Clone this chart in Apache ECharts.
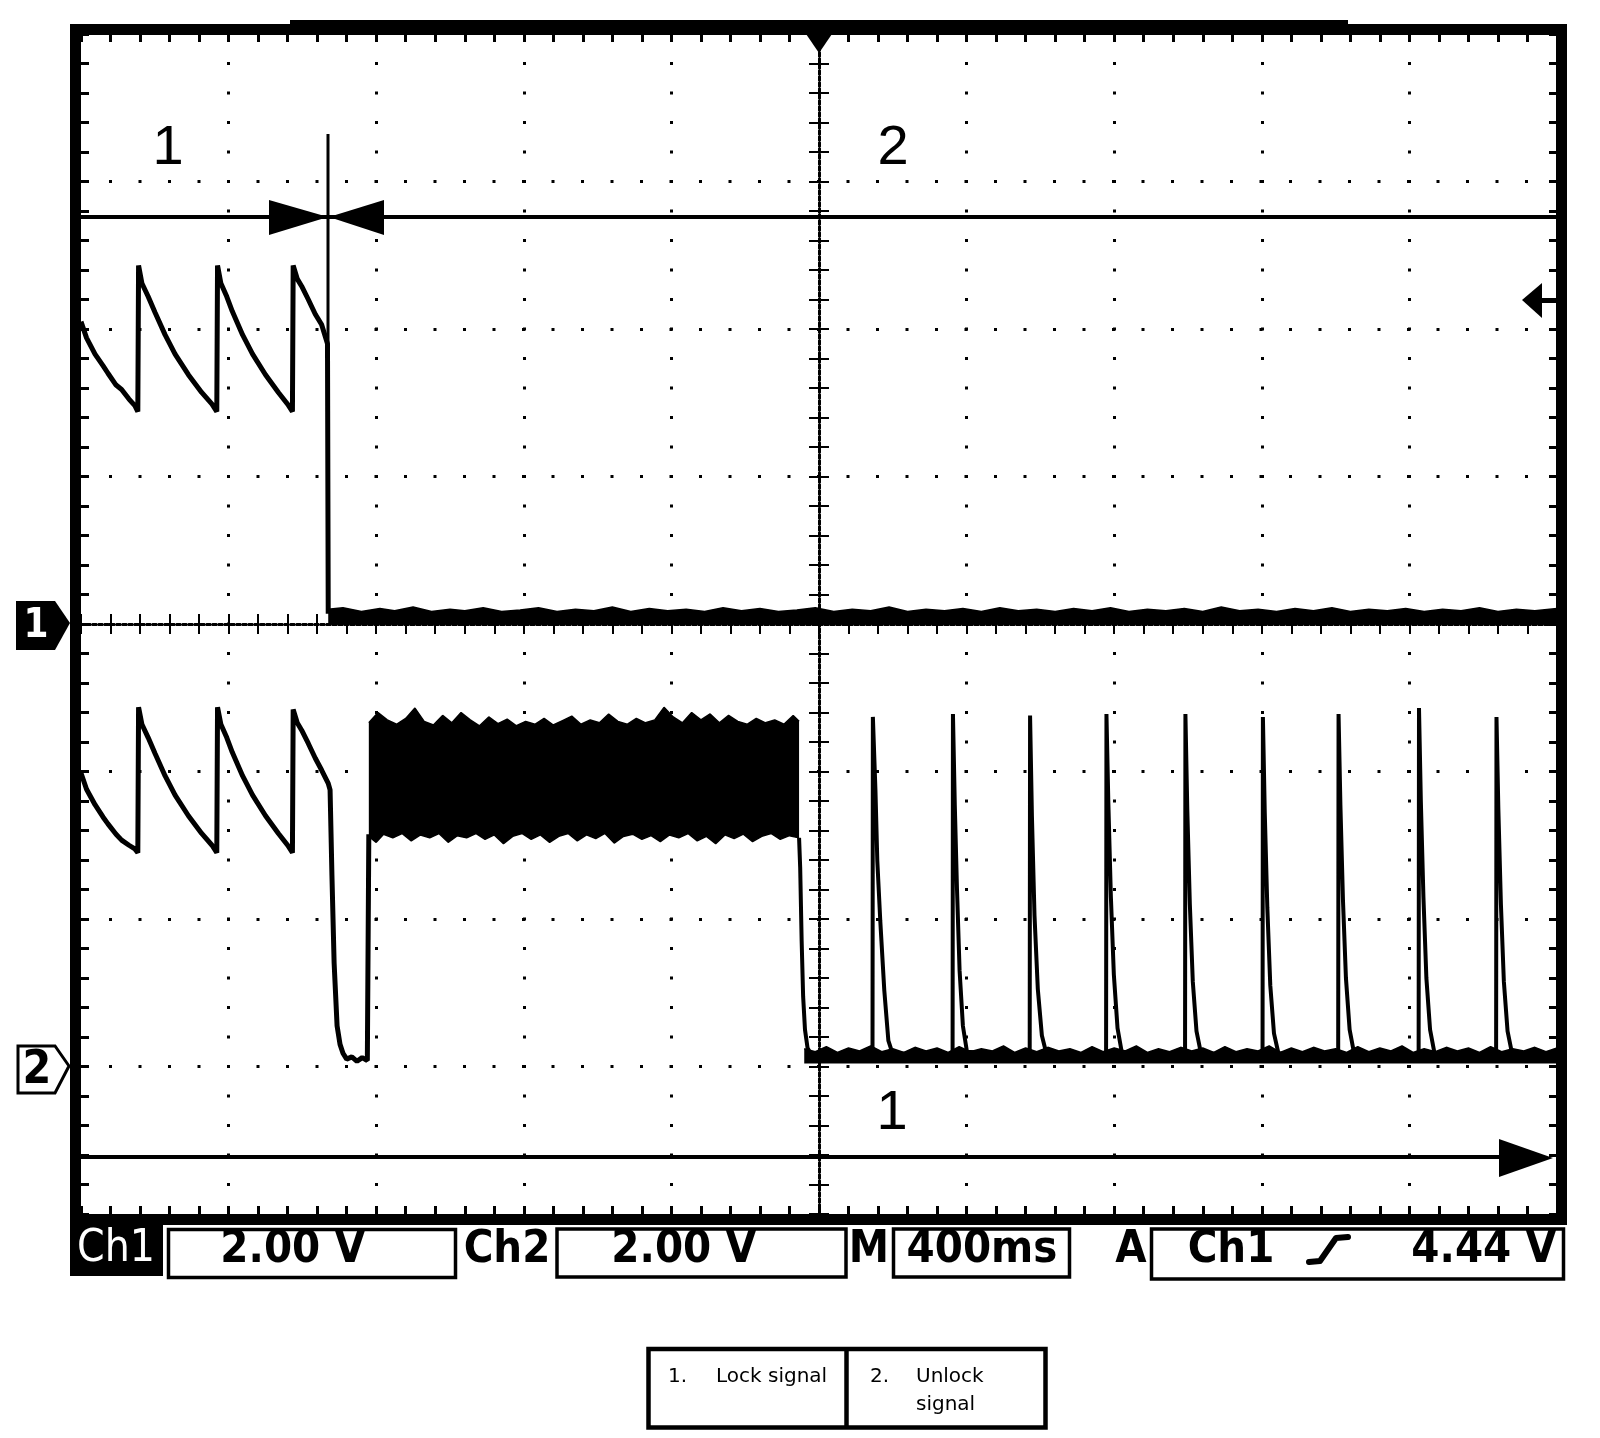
<!DOCTYPE html>
<html>
<head>
<meta charset="utf-8">
<title>Lock / unlock signal</title>
<script src="https://cdn.jsdelivr.net/npm/echarts@6/dist/echarts.min.js"></script>
<style>
  html, body { margin: 0; padding: 0; background: #fff; }
  #scope { width: 1600px; height: 1438px; }
</style>
</head>
<body>
<div id="scope"></div>
<script>
// time in ms (trigger at 0, 400 ms/div), voltage in V (2 V/div)
// Ch1 ground at centre line, Ch2 ground three divisions lower

// Ch1 - lock signal
var ch1Sawtooth = [
  [-2000, 4.10], [-1985, 3.88], [-1962, 3.66], [-1940, 3.50], [-1927, 3.40], [-1905, 3.24], [-1890, 3.18], [-1870, 3.05], [-1854, 2.96], [-1846, 2.88],
  [-1844, 4.86], [-1835, 4.62], [-1818, 4.44], [-1799, 4.22], [-1772, 3.92], [-1745, 3.66], [-1709, 3.38], [-1673, 3.14], [-1645, 2.98], [-1632, 2.88],
  [-1630, 4.86], [-1621, 4.62], [-1605, 4.44], [-1590, 4.24], [-1562, 3.92], [-1535, 3.66], [-1500, 3.38], [-1465, 3.14], [-1440, 2.98], [-1427, 2.88],
  [-1425, 4.86], [-1414, 4.68], [-1402, 4.58], [-1384, 4.40], [-1365, 4.20], [-1348, 4.06], [-1332, 3.80],
  [-1330, 0.14]
];
var ch1Noise = [
  [-1330, 0.20], [-1290, 0.22], [-1240, 0.17], [-1190, 0.21], [-1150, 0.18], [-1100, 0.23], [-1050, 0.17], [-1000, 0.20], [-960, 0.18], [-910, 0.22],
  [-860, 0.17], [-810, 0.19], [-760, 0.22], [-710, 0.17], [-660, 0.20], [-610, 0.18], [-560, 0.23], [-510, 0.17], [-460, 0.21], [-410, 0.18],
  [-360, 0.20], [-310, 0.17], [-260, 0.22], [-210, 0.18], [-160, 0.21], [-110, 0.17], [-60, 0.19], [-10, 0.22], [40, 0.17], [90, 0.20],
  [140, 0.18], [190, 0.23], [240, 0.17], [290, 0.20], [340, 0.18], [390, 0.21], [440, 0.17], [490, 0.22], [540, 0.18], [590, 0.20],
  [640, 0.17], [690, 0.21], [740, 0.18], [790, 0.22], [840, 0.17], [890, 0.20], [940, 0.18], [990, 0.21], [1040, 0.17], [1090, 0.23],
  [1140, 0.18], [1190, 0.20], [1240, 0.17], [1290, 0.21], [1340, 0.18], [1390, 0.22], [1440, 0.17], [1490, 0.20], [1540, 0.18], [1590, 0.21],
  [1640, 0.17], [1690, 0.20], [1740, 0.18], [1790, 0.22], [1840, 0.17], [1890, 0.20], [1940, 0.18], [2000, 0.21]
];

// Ch2 - unlock signal
var ch2Sawtooth = [
  [-2000, 3.98], [-1985, 3.76], [-1962, 3.55], [-1940, 3.38], [-1927, 3.29], [-1905, 3.15], [-1890, 3.07], [-1870, 3.00], [-1854, 2.95], [-1846, 2.90],
  [-1844, 4.87], [-1835, 4.64], [-1818, 4.46], [-1799, 4.24], [-1772, 3.94], [-1745, 3.68], [-1709, 3.40], [-1673, 3.16], [-1645, 3.00], [-1632, 2.90],
  [-1630, 4.87], [-1621, 4.64], [-1605, 4.46], [-1590, 4.26], [-1562, 3.94], [-1535, 3.68], [-1500, 3.40], [-1465, 3.16], [-1440, 3.00], [-1427, 2.90],
  [-1425, 4.84], [-1414, 4.66], [-1402, 4.56], [-1384, 4.38], [-1365, 4.18], [-1348, 4.02], [-1330, 3.84]
];
var ch2Dip = [
  [-1325, 3.75], [-1320, 2.60], [-1314, 1.40], [-1306, 0.55], [-1298, 0.30], [-1290, 0.18], [-1280, 0.10], [-1266, 0.13], [-1252, 0.07],
  [-1238, 0.12], [-1224, 0.08], [-1221, 0.10], [-1220, 3.15]
];
var burstTop = [
  [-1220, 4.66], [-1195, 4.80], [-1170, 4.70], [-1145, 4.64], [-1120, 4.72], [-1095, 4.86], [-1070, 4.68], [-1045, 4.63], [-1020, 4.76], [-995, 4.66],
  [-970, 4.80], [-945, 4.70], [-920, 4.62], [-895, 4.74], [-870, 4.65], [-845, 4.71], [-820, 4.62], [-795, 4.68], [-770, 4.64], [-745, 4.72],
  [-720, 4.63], [-695, 4.69], [-670, 4.75], [-645, 4.64], [-620, 4.70], [-595, 4.66], [-570, 4.78], [-545, 4.68], [-520, 4.64], [-495, 4.72],
  [-470, 4.66], [-445, 4.70], [-420, 4.87], [-395, 4.74], [-370, 4.66], [-345, 4.80], [-320, 4.70], [-295, 4.78], [-270, 4.66], [-245, 4.76],
  [-220, 4.68], [-195, 4.64], [-170, 4.72], [-145, 4.66], [-120, 4.70], [-95, 4.64], [-70, 4.76], [-54, 4.68]
];
var burstBottom = [
  [-1220, 3.12], [-1200, 3.04], [-1180, 3.15], [-1155, 3.10], [-1130, 3.16], [-1105, 3.06], [-1080, 3.14], [-1055, 3.10], [-1030, 3.16], [-1005, 3.04],
  [-980, 3.13], [-955, 3.10], [-930, 3.16], [-905, 3.08], [-880, 3.14], [-855, 3.02], [-830, 3.12], [-805, 3.16], [-780, 3.08], [-755, 3.14],
  [-730, 3.04], [-705, 3.12], [-680, 3.16], [-655, 3.06], [-630, 3.14], [-605, 3.09], [-580, 3.16], [-555, 3.03], [-530, 3.12], [-505, 3.15],
  [-480, 3.08], [-455, 3.13], [-430, 3.05], [-405, 3.14], [-380, 3.10], [-355, 3.16], [-330, 3.06], [-305, 3.12], [-280, 3.02], [-255, 3.14],
  [-230, 3.09], [-205, 3.15], [-180, 3.05], [-155, 3.12], [-130, 3.16], [-105, 3.08], [-80, 3.13], [-54, 3.10]
];
var ch2Pulses = [
  [-54, 3.10], [-51, 2.70], [-47, 1.70], [-43, 0.95], [-38, 0.50], [-31, 0.25], [-20, 0.15],
  [137, 0.15], [145, 0.15], [146, 4.74], [153, 3.74], [158, 2.79], [166, 1.98], [177, 1.03], [188, 0.35], [199, 0.18],
  [354, 0.15], [362, 0.15], [363, 4.78], [368, 3.55], [374, 2.40], [381, 1.30], [390, 0.55], [401, 0.20],
  [563, 0.15], [571, 0.15], [572, 4.76], [577, 3.40], [584, 2.05], [593, 1.05], [604, 0.42], [616, 0.18],
  [770, 0.15], [778, 0.15], [779, 4.78], [784, 3.60], [791, 2.30], [799, 1.25], [809, 0.52], [821, 0.18],
  [984, 0.15], [992, 0.15], [993, 4.78], [998, 3.50], [1005, 2.20], [1013, 1.15], [1023, 0.48], [1035, 0.18],
  [1194, 0.15], [1202, 0.15], [1203, 4.74], [1208, 3.45], [1215, 2.15], [1223, 1.10], [1233, 0.45], [1245, 0.18],
  [1399, 0.15], [1407, 0.15], [1408, 4.78], [1413, 3.55], [1420, 2.25], [1428, 1.20], [1438, 0.50], [1450, 0.18],
  [1617, 0.15], [1625, 0.15], [1626, 4.86], [1631, 3.60], [1638, 2.30], [1646, 1.20], [1656, 0.50], [1668, 0.18],
  [1827, 0.15], [1835, 0.15], [1836, 4.74], [1841, 3.50], [1848, 2.20], [1856, 1.15], [1866, 0.48], [1878, 0.18],
  [2000, 0.15]
];
var ch2Baseline = [
  [-40, 0.24], [-10, 0.20], [20, 0.27], [50, 0.19], [80, 0.25], [110, 0.21], [140, 0.28], [170, 0.20], [200, 0.24], [230, 0.19],
  [260, 0.26], [290, 0.21], [320, 0.25], [350, 0.19], [380, 0.27], [410, 0.20], [440, 0.24], [470, 0.21], [500, 0.28], [530, 0.19],
  [560, 0.25], [590, 0.20], [620, 0.26], [650, 0.21], [680, 0.24], [710, 0.19], [740, 0.27], [770, 0.20], [800, 0.25], [830, 0.21],
  [860, 0.28], [890, 0.19], [920, 0.24], [950, 0.20], [980, 0.26], [1010, 0.21], [1040, 0.25], [1070, 0.19], [1100, 0.27], [1130, 0.20],
  [1160, 0.24], [1190, 0.21], [1220, 0.28], [1250, 0.19], [1280, 0.25], [1310, 0.20], [1340, 0.26], [1370, 0.21], [1400, 0.24], [1430, 0.19],
  [1460, 0.27], [1490, 0.20], [1520, 0.25], [1550, 0.21], [1580, 0.28], [1610, 0.19], [1640, 0.24], [1670, 0.20], [1700, 0.26], [1730, 0.21],
  [1760, 0.25], [1790, 0.19], [1820, 0.27], [1850, 0.20], [1880, 0.24], [1910, 0.21], [1940, 0.26], [1970, 0.20], [2000, 0.25]
];

// readout bar and legend texts
var readout = ['Ch1', '2.00 V', 'Ch2', '2.00 V', 'M', '400ms', 'A', 'Ch1', '4.44 V'];
var legendRows = [['1.', 'Lock signal'], ['2.', 'Unlock', 'signal']];

var chart = echarts.init(document.getElementById('scope'));

var tickStyle = {color: '#000', width: 3};
var dots = {color: '#000', width: 3, type: [3, 26.5], dashOffset: 1.5};

function edgeAxis(min, max, interval, position, grid) {
  return {
    type: 'value', min: min, max: max, interval: interval, position: position,
    axisLabel: {show: false},
    axisLine: {show: false, onZero: false},
    axisTick: {show: true, inside: true, length: 8, lineStyle: tickStyle},
    minorTick: {show: true, splitNumber: 5, length: 8, lineStyle: tickStyle},
    splitLine: grid ? {show: true, showMinLine: false, showMaxLine: false, lineStyle: dots} : {show: false}
  };
}
function centreAxis(min, max, interval, position, inside) {
  return {
    type: 'value', min: min, max: max, interval: interval, position: position,
    axisLabel: {show: false},
    splitLine: {show: false},
    axisLine: {show: true, onZero: true, onZeroAxisIndex: 0, lineStyle: {color: '#000', width: 3, type: [3, 3]}},
    axisTick: {show: true, inside: inside, length: 10, lineStyle: {color: '#000', width: 2}},
    minorTick: {show: true, splitNumber: 5, length: 10, lineStyle: {color: '#000', width: 2}}
  };
}

function trace(data, yIdx, width) {
  return {type: 'line', data: data, xAxisIndex: 0, yAxisIndex: yIdx, symbol: 'none', silent: true,
    lineStyle: {color: '#000', width: width}, z: 5};
}
function band(data, yIdx, origin) {
  return {type: 'line', data: data, xAxisIndex: 0, yAxisIndex: yIdx, symbol: 'none', silent: true,
    lineStyle: {color: '#000', width: 1.5}, areaStyle: {color: '#000', opacity: 1, origin: origin}, z: 4};
}

var barFont = 'bold 45px "DejaVu Sans Condensed", "DejaVu Sans"';
function txt(x, y, text, font, fill, align) {
  return {type: 'text', x: x, y: y, z: 110, silent: true,
    style: {text: text, font: font, fill: fill || '#000', textAlign: align || 'center', textVerticalAlign: 'middle'}};
}
function box(x, y, w, h, lw) {
  return {type: 'rect', z: 105, silent: true, shape: {x: x, y: y, width: w, height: h},
    style: {fill: null, stroke: '#000', lineWidth: lw}};
}

var graphics = [
  // scope frame
  box(75.5, 29.5, 1486, 1190, 11),
  {type: 'rect', z: 105, shape: {x: 290, y: 20, width: 1058, height: 6}, style: {fill: '#000'}},
  {type: 'polygon', z: 105, shape: {points: [[806, 34], [832, 34], [819, 53]]}, style: {fill: '#000'}},
  // trigger level arrow
  {type: 'polygon', z: 105, shape: {points: [[1522, 300], [1542, 283], [1542, 318]]}, style: {fill: '#000'}},
  {type: 'rect', z: 105, shape: {x: 1540, y: 298, width: 16, height: 5}, style: {fill: '#000'}},
  // channel ground markers
  {type: 'polygon', z: 105, shape: {points: [[16, 601], [55, 601], [70, 623], [55, 650], [16, 650]]}, style: {fill: '#000'}},
  txt(36, 627, '1', 'bold 40px "DejaVu Sans Condensed", "DejaVu Sans"', '#fff'),
  {type: 'polygon', z: 105, shape: {points: [[18, 1046], [55, 1046], [69, 1066], [55, 1093], [18, 1093]]},
    style: {fill: '#fff', stroke: '#000', lineWidth: 3}},
  txt(37, 1071, '2', 'bold 46px "DejaVu Sans Condensed", "DejaVu Sans"'),
  // cursors
  {type: 'line', z: 20, shape: {x1: 81, y1: 217, x2: 1556, y2: 217}, style: {stroke: '#000', lineWidth: 4}},
  {type: 'polygon', z: 20, shape: {points: [[269, 200], [269, 235], [328, 217]]}, style: {fill: '#000'}},
  {type: 'polygon', z: 20, shape: {points: [[384, 200], [384, 235], [329, 217]]}, style: {fill: '#000'}},
  {type: 'line', z: 20, shape: {x1: 328, y1: 134, x2: 328, y2: 612}, style: {stroke: '#000', lineWidth: 3}},
  {type: 'line', z: 20, shape: {x1: 81, y1: 1157, x2: 1505, y2: 1157}, style: {stroke: '#000', lineWidth: 4}},
  {type: 'polygon', z: 20, shape: {points: [[1499, 1139], [1499, 1177], [1553, 1158]]}, style: {fill: '#000'}},
  txt(168, 149, '1', '56px "Liberation Sans", Arial'),
  txt(893, 149, '2', '56px "Liberation Sans", Arial'),
  txt(892, 1114, '1', '56px "Liberation Sans", Arial'),
  // readout bar
  {type: 'rect', z: 105, shape: {x: 70, y: 1225, width: 93, height: 51}, style: {fill: '#000'}},
  txt(116, 1250, readout[0], '44px "DejaVu Sans Condensed", "DejaVu Sans"', '#fff'),
  box(168.5, 1229.5, 287, 48, 3.5),
  txt(293, 1250, readout[1], barFont),
  txt(507, 1250, readout[2], barFont),
  box(557, 1229, 289, 48, 3.5),
  txt(684, 1250, readout[3], barFont),
  txt(869, 1250, readout[4], barFont),
  box(893.5, 1229, 176, 48, 3.5),
  txt(982, 1250, readout[5], barFont),
  txt(1131, 1250, readout[6], barFont),
  box(1151.5, 1229, 412, 50, 3.5),
  txt(1231, 1250, readout[7], barFont),
  {type: 'polyline', z: 110, shape: {points: [[1309, 1262], [1320, 1261], [1336, 1238], [1348, 1237]]},
    style: {stroke: '#000', lineWidth: 6, fill: null, lineJoin: 'round', lineCap: 'round'}},
  txt(1484, 1250, readout[8], barFont),
  // legend table
  box(648.5, 1349, 397, 78.5, 4.5),
  {type: 'line', z: 105, shape: {x1: 846.5, y1: 1349, x2: 846.5, y2: 1427}, style: {stroke: '#000', lineWidth: 4.5}},
  txt(668, 1377, legendRows[0][0], '20px "DejaVu Sans"', '#000', 'left'),
  txt(716, 1377, legendRows[0][1], '20px "DejaVu Sans"', '#000', 'left'),
  txt(870, 1377, legendRows[1][0], '20px "DejaVu Sans"', '#000', 'left'),
  txt(916, 1377, legendRows[1][1], '20px "DejaVu Sans"', '#000', 'left'),
  txt(916, 1405, legendRows[1][2], '20px "DejaVu Sans"', '#000', 'left')
];

var option = {
  animation: false,
  backgroundColor: '#fff',
  grid: {left: 81, top: 34, width: 1476, height: 1180, show: false},
  xAxis: [
    edgeAxis(-2000, 2000, 400, 'bottom', true),
    edgeAxis(-2000, 2000, 400, 'top', false),
    centreAxis(-2000, 2000, 400, 'bottom', true),
    centreAxis(-2000, 2000, 400, 'bottom', false)
  ],
  yAxis: [
    edgeAxis(-8, 8, 2, 'left', true),
    edgeAxis(-2, 14, 2, 'right', false),
    centreAxis(-8, 8, 2, 'left', true),
    centreAxis(-8, 8, 2, 'left', false)
  ],
  series: [
    trace(ch1Sawtooth, 0, 5),
    band(ch1Noise, 0, 0),
    trace(ch2Sawtooth.concat(ch2Dip), 1, 5),
    band(burstTop, 1, 3.9),
    band(burstBottom, 1, 3.9),
    band(ch2Baseline, 1, 0.04),
    trace(ch2Pulses, 1, 4)
  ],
  graphic: graphics
};

chart.setOption(option);
</script>
</body>
</html>
